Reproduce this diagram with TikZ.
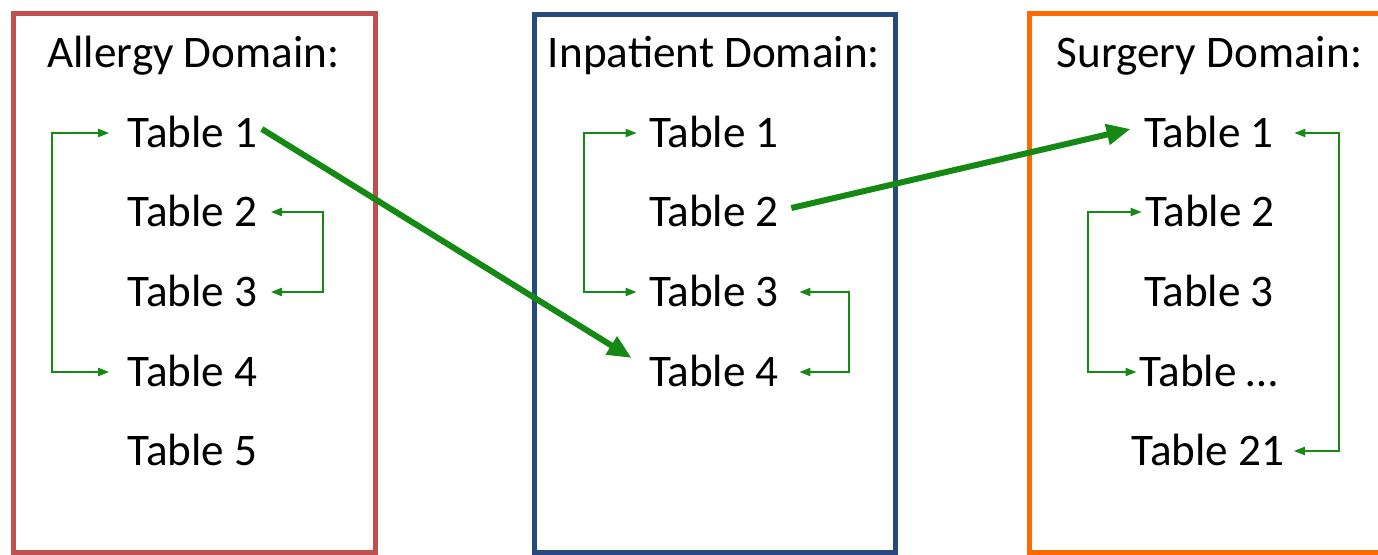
\documentclass[tikz,border=0pt]{standalone}
\usepackage{fontspec}
\setmainfont{Carlito}
\usetikzlibrary{arrows.meta}
\definecolor{allergyred}{RGB}{192,80,77}
\definecolor{inpatblue}{RGB}{40,74,122}
\definecolor{surgorange}{RGB}{255,106,0}
\definecolor{linkgreen}{RGB}{20,138,20}

\begin{document}
\begin{tikzpicture}[x=0.5pt, y=-0.5pt,
				every node/.style={inner sep=0pt, text height=14.5pt, text depth=0pt, font=\fontsize{22.6}{27}\selectfont},
				domainbox/.style={line width=2.5pt},
				link/.style={{Triangle[length=5.5pt,width=4pt]}-{Triangle[length=5.5pt,width=4pt]}, linkgreen, line width=1pt},
				jump/.style={-{Triangle[length=12pt,width=10pt]}, linkgreen, line width=3pt}
				]
				\useasboundingbox (0,0) rectangle (1378,554);
				% domain frames
				\draw[domainbox, allergyred] (13,13) rectangle (375,552);
				\draw[domainbox, inpatblue] (534.5,14) rectangle (895,552);
				\draw[domainbox, surgorange] (1400,13) -- (1029.5,13) -- (1029.5,552) -- (1400,552);
				% allergy
				\node (aTitle) at (193.5,53) {Allergy Domain:};
				\node (aT1) at (192.5,133) {Table 1};
				\node (aT2) at (192.5,212) {Table 2};
				\node (aT3) at (192.5,292) {Table 3};
				\node (aT4) at (192.5,372) {Table 4};
				\node (aT5) at (192.5,451) {Table 5};
				% inpatient
				\node (iTitle) at (714,53) {Inpatient Domain:};
				\node (iT1) at (714,133) {Table 1};
				\node (iT2) at (714,212) {Table 2};
				\node (iT3) at (714,292) {Table 3};
				\node (iT4) at (714,372) {Table 4};
				% surgery
				\node (sTitle) at (1209.5,53) {Surgery Domain:};
				\node (sT1) at (1209,133) {Table 1};
				\node (sT2) at (1210,212) {Table 2};
				\node (sT3) at (1209,292) {Table 3};
				\node (sTx) at (1209,372) {Table \dots};
				\node (sT21) at (1208,451) {Table 21};
				% links inside a domain
				\draw[link] ([xshift=-9pt]aT1.west) -- ++(-57,0) |- ([xshift=-9pt]aT4.west);
				\draw[link] ([xshift=6.5pt]aT2.east) -- ++(52,0) |- ([xshift=6.5pt]aT3.east);
				\draw[link] ([xshift=-6pt]iT1.west) -- ++(-53,0) |- ([xshift=-6pt]iT3.west);
				\draw[link] ([xshift=10pt]iT3.east) -- ++(50,0) |- ([xshift=10pt]iT4.east);
				\draw[link] ([xshift=-1.5pt]sT2.west) -- ++(-54,0) |- ([xshift=-1.5pt]sTx.west);
				\draw[link] ([xshift=10pt]sT1.east) -- ++(45,0) |- ([xshift=4.5pt]sT21.east);
				% links across domains
				\draw[jump] ([xshift=2pt,yshift=2pt]aT1.east) -- ([xshift=-8.5pt,yshift=7pt]iT4.west);
				\draw[jump] ([xshift=6pt,yshift=2pt]iT2.east) -- ([xshift=-6.5pt,yshift=2pt]sT1.west);
			\end{tikzpicture}
\end{document}
